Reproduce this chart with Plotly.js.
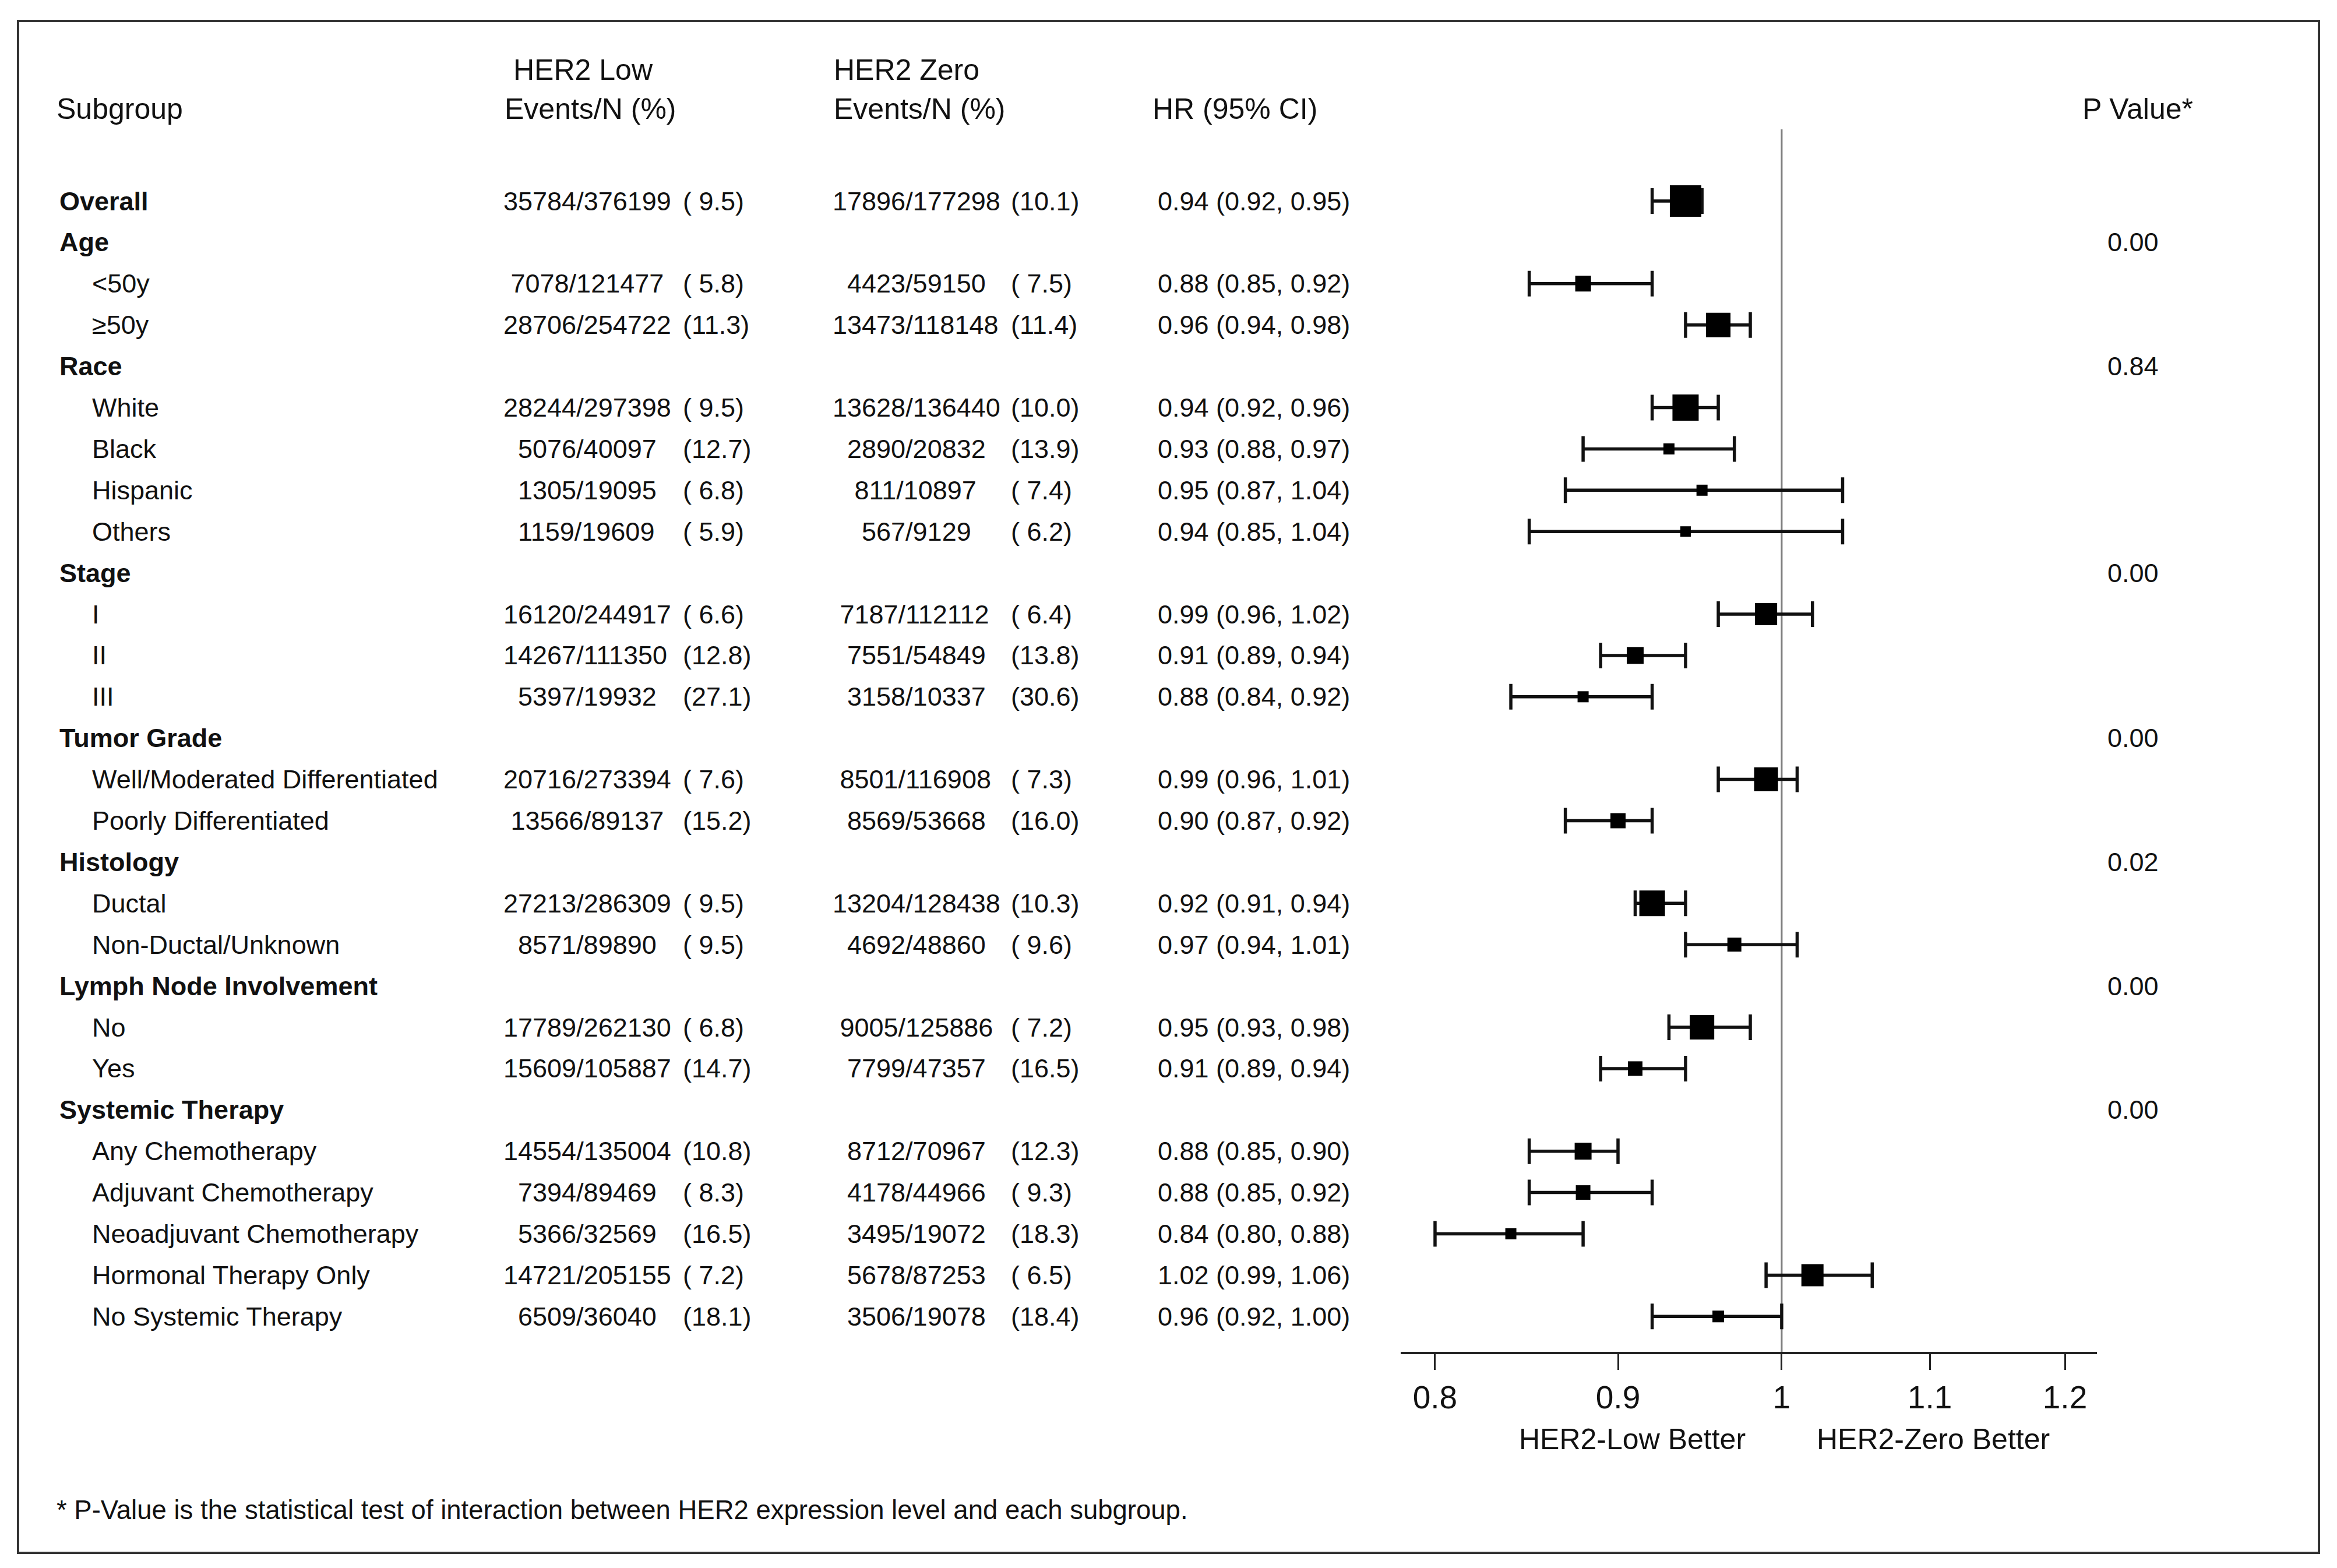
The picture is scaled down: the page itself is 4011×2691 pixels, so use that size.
<!DOCTYPE html>
<html>
<head>
<meta charset="utf-8">
<script src="https://cdn.plot.ly/plotly-3.0.1.min.js"></script>
<style>
html,body{margin:0;padding:0;background:#fff;}
#chart{width:4011px;height:2691px;}
</style>
</head>
<body>
<div id="chart"></div>
<script>
// ---------------- data ----------------
const subgroups = ['Overall','Age','<50y','\u226550y','Race','White','Black','Hispanic','Others',
  'Stage','I','II','III','Tumor Grade','Well/Moderated Differentiated','Poorly Differentiated',
  'Histology','Ductal','Non-Ductal/Unknown','Lymph Node Involvement','No','Yes',
  'Systemic Therapy','Any Chemotherapy','Adjuvant Chemotherapy','Neoadjuvant Chemotherapy',
  'Hormonal Therapy Only','No Systemic Therapy'];
const isHeading = [1,1,0,0,1,0,0,0,0,1,0,0,0,1,0,0,1,0,0,1,0,0,1,0,0,0,0,0];
const lowEvents = [35784,null,7078,28706,null,28244,5076,1305,1159,null,16120,14267,5397,null,20716,13566,null,27213,8571,null,17789,15609,null,14554,7394,5366,14721,6509];
const lowN = [376199,null,121477,254722,null,297398,40097,19095,19609,null,244917,111350,19932,null,273394,89137,null,286309,89890,null,262130,105887,null,135004,89469,32569,205155,36040];
const lowPct = [9.5,null,5.8,11.3,null,9.5,12.7,6.8,5.9,null,6.6,12.8,27.1,null,7.6,15.2,null,9.5,9.5,null,6.8,14.7,null,10.8,8.3,16.5,7.2,18.1];
const zeroEvents = [17896,null,4423,13473,null,13628,2890,811,567,null,7187,7551,3158,null,8501,8569,null,13204,4692,null,9005,7799,null,8712,4178,3495,5678,3506];
const zeroN = [177298,null,59150,118148,null,136440,20832,10897,9129,null,112112,54849,10337,null,116908,53668,null,128438,48860,null,125886,47357,null,70967,44966,19072,87253,19078];
const zeroPct = [10.1,null,7.5,11.4,null,10.0,13.9,7.4,6.2,null,6.4,13.8,30.6,null,7.3,16.0,null,10.3,9.6,null,7.2,16.5,null,12.3,9.3,18.3,6.5,18.4];
const hr = [0.94,null,0.88,0.96,null,0.94,0.93,0.95,0.94,null,0.99,0.91,0.88,null,0.99,0.90,null,0.92,0.97,null,0.95,0.91,null,0.88,0.88,0.84,1.02,0.96];
const ciLow = [0.92,null,0.85,0.94,null,0.92,0.88,0.87,0.85,null,0.96,0.89,0.84,null,0.96,0.87,null,0.91,0.94,null,0.93,0.89,null,0.85,0.85,0.80,0.99,0.92];
const ciHigh = [0.95,null,0.92,0.98,null,0.96,0.97,1.04,1.04,null,1.02,0.94,0.92,null,1.01,0.92,null,0.94,1.01,null,0.98,0.94,null,0.90,0.92,0.88,1.06,1.00];
const pValues = [null,'0.00',null,null,'0.84',null,null,null,null,'0.00',null,null,null,'0.00',null,null,'0.02',null,null,'0.00',null,null,'0.00',null,null,null,null,null];
const tickVals = [0.8,0.9,1,1.1,1.2];
const tickText = ['0.8','0.9','1','1.1','1.2'];

// ---------------- style / layout constants ----------------
const W = 4011, H = 2691;
const FONT = 'Liberation Sans, Arial, Helvetica, sans-serif';
const BODY = 45, HEAD = 50;
const ROW0 = 345, STEP = 70.9, AXIS_PX = 2320;
const boxPx = [54,0,27,42,0,45,19,19,18,0,38,29,19,0,41,26,0,44,24,0,42,25,0,29,25,19,38,20];
const NB = '\u00A0';
const pad = (s, n) => { s = String(s); while (s.length < n) s = NB + s; return s; };
const px = v => v / W;
const py = v => 1 - v / H;
const yTop = (0 - ROW0) / STEP;
const yBot = (AXIS_PX - ROW0) / STEP;

const ann = [];
function add(text, xpx, y, yref, size, extra) {
  ann.push(Object.assign({
    text: text, x: px(xpx), xref: 'paper', y: y, yref: yref,
    xanchor: 'left', yanchor: 'middle', showarrow: false,
    font: {family: FONT, size: size, color: '#111'}
  }, extra || {}));
}

// headers
add('Subgroup', 95, py(187), 'paper', HEAD);
add('HER2 Low', 879, py(120), 'paper', HEAD);
add('Events/N (%)', 864, py(187), 'paper', HEAD);
add('HER2 Zero', 1429, py(120), 'paper', HEAD);
add('Events/N (%)', 1429, py(187), 'paper', HEAD);
add('HR (95% CI)', 1976, py(187), 'paper', HEAD);
add('P Value*', 3572, py(187), 'paper', HEAD);

// rows
subgroups.forEach((s, i) => {
  if (isHeading[i]) add('<b>' + s + '</b>', 100, i, 'y', BODY);
  else add(s, 156, i, 'y', BODY);
  if (lowEvents[i] != null) {
    add(pad(lowEvents[i] + '/' + lowN[i], 12), 862, i, 'y', BODY);
    add('(' + pad(lowPct[i].toFixed(1), 4) + ')', 1170, i, 'y', BODY);
    add(pad(zeroEvents[i] + '/' + zeroN[i], 12), 1427, i, 'y', BODY);
    add('(' + pad(zeroPct[i].toFixed(1), 4) + ')', 1733, i, 'y', BODY);
    add(hr[i].toFixed(2) + ' (' + ciLow[i].toFixed(2) + ', ' + ciHigh[i].toFixed(2) + ')', 1985, i, 'y', BODY);
  }
  if (pValues[i] != null) add(pValues[i], 3707, i, 'y', BODY, {xanchor: 'right'});
});

// axis captions and footnote
add('HER2-Low Better', 2801, py(2470), 'paper', HEAD, {xanchor: 'center'});
add('HER2-Zero Better', 3318, py(2470), 'paper', HEAD, {xanchor: 'center'});
add('* P-Value is the statistical test of interaction between HER2 expression level and each subgroup.', 95, py(2591), 'paper', 45.5);

// forest trace
const idx = [], xs = [], plus = [], minus = [], sizes = [];
hr.forEach((v, i) => {
  if (v == null) return;
  idx.push(i); xs.push(v);
  plus.push(ciHigh[i] - v); minus.push(v - ciLow[i]);
  sizes.push(boxPx[i]);
});

const trace = {
  type: 'scatter', mode: 'markers', x: xs, y: idx,
  marker: {symbol: 'square', size: sizes, color: '#000', opacity: 1, line: {width: 0}},
  opacity: 1,
  error_x: {type: 'data', symmetric: false, array: plus, arrayminus: minus,
            color: '#111', thickness: 5.5, width: 22},
  cliponaxis: false, hoverinfo: 'skip', showlegend: false
};

const layout = {
  width: W, height: H,
  margin: {l: 0, r: 0, t: 0, b: 0, pad: 0},
  paper_bgcolor: '#fff', plot_bgcolor: 'rgba(0,0,0,0)',
  showlegend: false, hovermode: false,
  xaxis: {
    type: 'log', domain: [2404 / W, 3599 / W],
    range: [Math.log10(0.7825), Math.log10(1.225)],
    showline: true, linecolor: '#222', linewidth: 4,
    ticks: 'outside', ticklen: 27, tickwidth: 3, tickcolor: '#222',
    tickvals: tickVals, ticktext: tickText,
    tickfont: {family: FONT, size: 55, color: '#111'},
    showgrid: false, zeroline: false, fixedrange: true
  },
  yaxis: {
    domain: [1 - AXIS_PX / H, 1], range: [yBot, yTop], autorange: false,
    showline: false, showgrid: false, zeroline: false,
    showticklabels: false, ticks: '', fixedrange: true
  },
  shapes: [
    {type: 'rect', xref: 'paper', yref: 'paper', x0: px(31), x1: px(3980), y0: py(2665), y1: py(36),
     line: {color: '#333', width: 4}, fillcolor: 'rgba(0,0,0,0)'},
    {type: 'line', xref: 'x', yref: 'y', x0: 1, x1: 1, y0: (222 - ROW0) / STEP, y1: yBot,
     line: {color: '#808080', width: 3}, layer: 'below'}
  ],
  annotations: ann
};

Plotly.newPlot('chart', [trace], layout, {staticPlot: true, displayModeBar: false});
</script>
</body>
</html>
